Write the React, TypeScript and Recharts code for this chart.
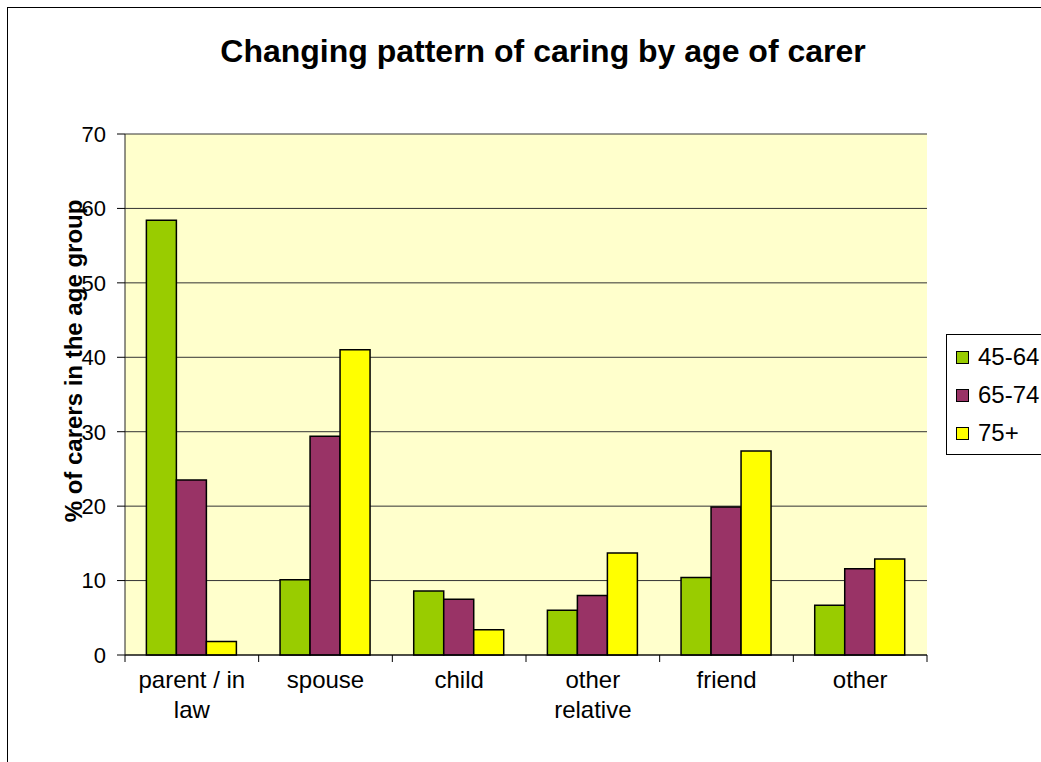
import React from 'react';
import { BarChart, Bar, XAxis, YAxis, CartesianGrid } from 'recharts';

const categories = ['parent / in law', 'spouse', 'child', 'other relative', 'friend', 'other'];
const tickLines = [['parent / in', 'law'], ['spouse'], ['child'], ['other', 'relative'], ['friend'], ['other']];
const s4564 = [58.4, 10.1, 8.6, 6.0, 10.4, 6.7];
const s6574 = [23.5, 29.4, 7.5, 8.0, 19.9, 11.6];
const s75 = [1.8, 41.0, 3.4, 13.7, 27.4, 12.9];
const yTicks = [0, 10, 20, 30, 40, 50, 60, 70];
const seriesNames = ['45-64', '65-74', '75+'];
const seriesColors = ['#99CC00', '#993366', '#FFFF00'];
const title = 'Changing pattern of caring by age of carer';
const yLabel = '% of carers in the age group';

const data = categories.map((c, i) => ({
  name: c,
  [seriesNames[0]]: s4564[i],
  [seriesNames[1]]: s6574[i],
  [seriesNames[2]]: s75[i],
}));

const FONT = '"Liberation Sans", Arial, sans-serif';

const XTick = (props: any) => {
  const { x, y, payload, index } = props;
  const off = payload && typeof payload.offset === 'number' ? payload.offset : 0;
  const lines: string[] = tickLines[index] || [String(payload.value)];
  return (
    <g>
      <line x1={x - off} x2={x - off} y1={y} y2={y + 7} stroke="#000" strokeWidth={1} />
      {index === categories.length - 1 && (
        <line x1={x + off} x2={x + off} y1={y} y2={y + 7} stroke="#000" strokeWidth={1} />
      )}
      <text x={x} y={y + 33} textAnchor="middle" fontFamily={FONT} fontSize={24} fill="#000">
        {lines.map((l, i) => (
          <tspan key={i} x={x} dy={i === 0 ? 0 : 30}>{l}</tspan>
        ))}
      </text>
    </g>
  );
};

const LegendBox = () => (
  <div
    style={{
      position: 'absolute',
      left: 946,
      top: 334,
      borderTop: '1px solid #000',
      borderLeft: '1px solid #000',
      borderBottom: '1px solid #000',
      boxSizing: 'border-box',
      width: 95,
      height: 121,
      padding: '3px 0 4px 0',
      background: '#fff',
      fontFamily: FONT,
      whiteSpace: 'nowrap',
      overflow: 'hidden',
    }}
  >
    {seriesNames.map((n, i) => (
      <div key={n} style={{ height: 38, display: 'flex', alignItems: 'center', paddingLeft: 9 }}>
        <div
          style={{
            width: 13,
            height: 13,
            flex: '0 0 13px',
            boxSizing: 'border-box',
            border: '1px solid #000',
            background: seriesColors[i],
            marginRight: 9,
          }}
        />
        <span style={{ fontSize: 24, color: '#000', lineHeight: '38px' }}>{n}</span>
      </div>
    ))}
  </div>
);

export default function App() {
  return (
    <div style={{ width: 1041, height: 762, position: 'relative', background: '#fff', overflow: 'hidden' }}>
      <style>{'html,body{margin:0;padding:0;}'}</style>
      <div style={{ position: 'absolute', left: 8, top: 8, width: 1033, height: 754 }}>
        <BarChart
          width={1033}
          height={746}
          data={data}
          margin={{ top: 126, right: 114, left: 0, bottom: 0 }}
          barCategoryGap="16%"
          barGap={0}
        >
          <CartesianGrid vertical={false} stroke="#333" fill="#FFFFCC" />
          <XAxis
            dataKey="name"
            height={99}
            tickSize={0}
            tickMargin={0}
            tickLine={false}
            axisLine={{ stroke: '#000' }}
            interval={0}
            tick={<XTick />}
          />
          <YAxis
            domain={[0, 70]}
            ticks={yTicks}
            width={117}
            tickSize={8}
            tickMargin={11}
            axisLine={{ stroke: '#222' }}
            tickLine={{ stroke: '#000' }}
            tick={{ fontSize: 22, fontFamily: FONT, fill: '#000' }}
            interval={0}
          />
          <YAxis
            yAxisId="frame"
            orientation="right"
            width={0}
            tick={false}
            tickLine={false}
            axisLine={{ stroke: '#808080' }}
          />
          {seriesNames.map((n, i) => (
            <Bar
              key={n}
              dataKey={n}
              name={n}
              fill={seriesColors[i]}
              stroke="#000"
              strokeWidth={1.5}
              isAnimationActive={false}
            />
          ))}
        </BarChart>
      </div>
      <LegendBox />
      <svg
        width={1041}
        height={762}
        style={{ position: 'absolute', left: 0, top: 0, pointerEvents: 'none' }}
      >
        <rect x={7} y={7} width={1034} height={1} fill="#000" />
        <rect x={7} y={7} width={1} height={755} fill="#000" />
        <text x={543} y={62} textAnchor="middle" fontFamily={FONT} fontSize={32} fontWeight="bold" fill="#000">
          {title}
        </text>
        <text
          x={82}
          y={361}
          transform="rotate(-90 82 361)"
          textAnchor="middle"
          fontFamily={FONT}
          fontSize={24}
          fontWeight="bold"
          fill="#000"
        >
          {yLabel}
        </text>
      </svg>
    </div>
  );
}
